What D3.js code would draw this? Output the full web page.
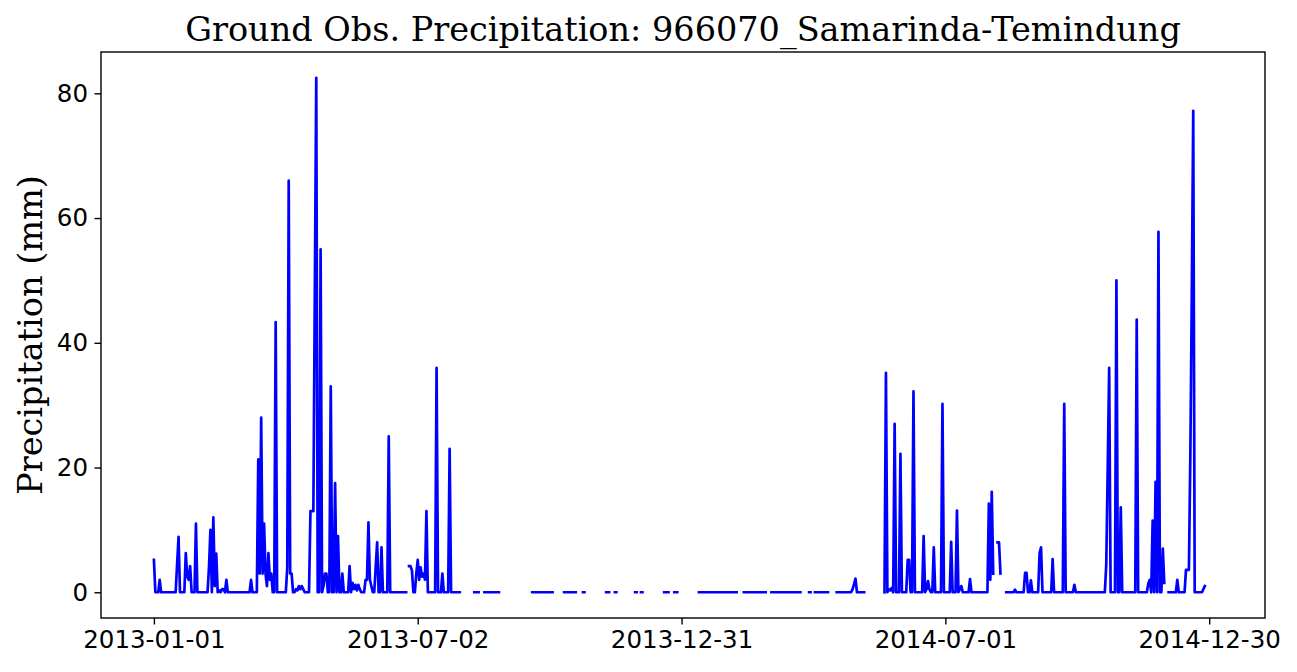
<!DOCTYPE html>
<html>
<head>
<meta charset="utf-8">
<script src="https://cdn.jsdelivr.net/npm/d3@7"></script>
<style>
  body { margin: 0; background: #fff; }
  svg { display: block; }
</style>
</head>
<body>
<div id="chart"></div>
<script>
// daily gauge record, day index counted from startDate
var startDate = "2013-01-01";
var nDays = 731;

// days with no observation (inclusive ranges)
var missingDays = [[175,175],[212,220],[225,227],[239,260],[276,282],[292,295],[298,311],
  [315,317],[320,331],[334,335],[338,351],[356,358],[362,375],[403,406],[423,425],
  [447,451],[454,455],[466,470],[491,503],[580,581],[585,587],[698,699],[726,730]];

// wet days of 2013 and their precipitation (mm); every other observed day is 0
var wetDays2013 = [0,4,16,17,22,23,24,25,29,38,39,41,42,43,45,47,48,50,67,72,73,74,75,76,77,78,
  79,80,81,84,92,93,94,95,98,99,100,101,102,103,108,109,110,111,112,115,117,118,119,122,125,
  127,130,135,137,138,139,140,141,142,146,147,148,149,150,153,154,157,162,176,177,178,181,182,
  183,184,185,186,187,188,195,199,204];
var wetMm2013 = [5.2,2,4.5,8.9,6.3,2.5,2,4.2,11,4,10,12,1,6.2,0.3,0.5,0.5,2,2,21.3,3,28,3,11,3,1,
  6.3,2,3,43.3,4,66,3,3,0.5,0.3,1,0.5,1,0.5,13,13,13,48,82.5,55,1,3,3,33,17.5,
  9,3,4.2,1.5,0.5,1.2,0.3,1.2,0.5,2,2,11.2,2,1,4,8,7.2,25,4.2,4.2,3.5,3,5.2,
  2,4,2.5,3,2,13,36,3,23];

// wet days of 2014
var wetDays2014 = [482,483,484,505,507,508,509,511,515,520,521,524,531,533,534,535,538,544,550,
  554,556,557,563,576,577,578,579,582,583,584,594,601,602,605,611,612,620,628,635,657,658,659,
  664,667,678,686,687,689,691,693,696,697,706,712,713,714,715,716,717,724,725];
var wetMm2014 = [0.5,1.3,2.2,35.2,0.5,0.3,0.7,27,22.2,5.2,5.2,32.2,9,0.5,1.8,0.5,7.2,30.2,8.1,
  13.1,0.5,1,2.1,14.2,2,16.1,3,8,8,3,0.4,3.1,3.1,1.9,6.3,7.2,5.3,30.2,1.2,4.5,20,36,
  50,13.6,43.7,1.4,2,11.5,17.7,57.8,7,1.5,2,3.6,3.6,3.6,22,48,77.2,0.5,1];

var xTickLabels = ["2013-01-01","2013-07-02","2013-12-31","2014-07-01","2014-12-30"];
var yTicks = [0, 20, 40, 60, 80];

var titleText = "Ground Obs. Precipitation: 966070_Samarinda-Temindung";
var yLabelText = "Precipitation (mm)";

var width = 1297, height = 672;
var margin = {top: 52, right: 32, bottom: 54, left: 101};
var innerW = width - margin.left - margin.right,
    innerH = height - margin.top - margin.bottom;

var parseDate = d3.utcParse("%Y-%m-%d");
var fmtDate = d3.utcFormat("%Y-%m-%d");
var day0 = parseDate(startDate);

var wet = new Map();
wetDays2013.forEach(function(d, i) { wet.set(d, wetMm2013[i]); });
wetDays2014.forEach(function(d, i) { wet.set(d, wetMm2014[i]); });

function isMissing(i) {
  return missingDays.some(function(r) { return i >= r[0] && i <= r[1]; });
}

var data = d3.range(nDays).map(function(i) {
  return {
    date: d3.utcDay.offset(day0, i),
    value: isMissing(i) ? NaN : (wet.has(i) ? wet.get(i) : 0)
  };
});

// matplotlib-like 5% margins
var xExt = d3.extent(data, function(d) { return d.date; });
var xPad = (xExt[1] - xExt[0]) * 0.05;
var x = d3.scaleUtc()
  .domain([new Date(+xExt[0] - xPad), new Date(+xExt[1] + xPad)])
  .range([0, innerW]);

var yMax = d3.max(data, function(d) { return d.value; });
var yMin = 0;
var yPad = (yMax - yMin) * 0.05;
var y = d3.scaleLinear()
  .domain([yMin - yPad, yMax + yPad])
  .range([innerH, 0]);

var svg = d3.select("#chart").append("svg")
  .attr("width", width)
  .attr("height", height);

svg.append("rect").attr("width", width).attr("height", height).attr("fill", "#fff");

var g = svg.append("g")
  .attr("transform", "translate(" + margin.left + "," + margin.top + ")");

g.append("clipPath").attr("id", "clip")
  .append("rect").attr("width", innerW).attr("height", innerH);

var line = d3.line()
  .defined(function(d) { return !isNaN(d.value); })
  .x(function(d) { return x(d.date); })
  .y(function(d) { return y(d.value); });

g.append("path")
  .datum(data)
  .attr("clip-path", "url(#clip)")
  .attr("d", line)
  .attr("fill", "none")
  .attr("stroke", "#0000ff")
  .attr("stroke-width", 2.7)
  .attr("stroke-linejoin", "round")
  .attr("stroke-linecap", "square");

// axes
var xAxis = d3.axisBottom(x)
  .tickValues(xTickLabels.map(parseDate))
  .tickFormat(fmtDate)
  .tickSize(6.5)
  .tickPadding(6.5)
  .tickSizeOuter(0);

var yAxis = d3.axisLeft(y)
  .tickValues(yTicks)
  .tickSize(6.5)
  .tickPadding(6.5)
  .tickSizeOuter(0);

var gx = g.append("g")
  .attr("transform", "translate(0," + innerH + ")")
  .call(xAxis);
var gy = g.append("g").call(yAxis);

[gx, gy].forEach(function(a) {
  a.select(".domain").remove();
  a.selectAll(".tick line").attr("stroke", "#000").attr("stroke-width", 1.4);
  a.selectAll(".tick text")
    .attr("fill", "#000")
    .style("font-family", "'DejaVu Sans', sans-serif")
    .style("font-size", "24.5px");
});

g.append("rect")
  .attr("width", innerW)
  .attr("height", innerH)
  .attr("fill", "none")
  .attr("stroke", "#000")
  .attr("stroke-width", 1.4);

svg.append("text")
  .attr("x", margin.left + innerW / 2)
  .attr("y", 41)
  .attr("text-anchor", "middle")
  .style("font-family", "'DejaVu Serif', serif")
  .style("font-size", "33.5px")
  .text(titleText);

svg.append("text")
  .attr("transform", "translate(42," + (margin.top + innerH / 2) + ") rotate(-90)")
  .attr("text-anchor", "middle")
  .style("font-family", "'DejaVu Serif', serif")
  .style("font-size", "33.5px")
  .text(yLabelText);
</script>
</body>
</html>
